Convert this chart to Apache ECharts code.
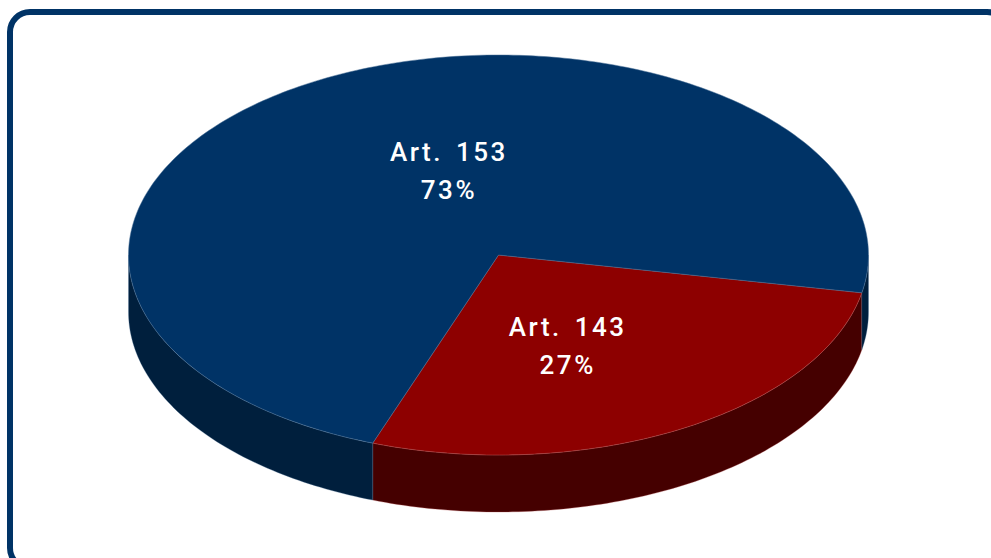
<!DOCTYPE html>
<html><head><meta charset="utf-8">
<style>html,body{margin:0;padding:0;background:#fff}#c{width:991px;height:558px}
svg text{letter-spacing:2.5px;word-spacing:4px}</style>
<script src="https://cdn.jsdelivr.net/npm/echarts@6/dist/echarts.min.js"></script>
</head><body><div id="c"></div>
<script>
const categories = ['Art. 143', 'Art. 153'];
const shares = [27.49, 72.51];
const topColors = ['#8d0000', '#003366'];
const sideColors = ['#450000', '#001f3d'];
const edgeColors = ['#b04a4a', '#4a7096'];
const labelOffsets = [[0.187, 0.455], [-0.134, -0.42]];

const cx = 498.5, cy = 255, rx = 370, ry = 200, depth = 57, startDeg = 10.9;
const total = shares.reduce((a, b) => a + b, 0);
const rad = d => d * Math.PI / 180;
const pt = (deg, dy) => [cx + rx * Math.cos(rad(deg)), cy + dy + ry * Math.sin(rad(deg))];
const arc = (a, b, dy) => {
  const out = [], n = Math.max(2, Math.ceil(Math.abs(b - a) / 1));
  for (let i = 0; i <= n; i++) out.push(pt(a + (b - a) * i / n, dy));
  return out;
};
function visibleRanges(a, b) {
  const res = [];
  for (let k = 0; k <= 1; k++) {
    const lo = Math.max(a, 360 * k), hi = Math.min(b, 180 + 360 * k);
    if (hi > lo) res.push([lo, hi]);
  }
  return res;
}
const chart = echarts.init(document.getElementById('c'), null, {renderer: 'svg'});
chart.setOption({
  animation: false,
  graphic: [{
    type: 'rect', z: 0, silent: true,
    shape: {x: 10, y: 12, width: 997, height: 556, r: 20},
    style: {fill: '#fff', stroke: '#003366', lineWidth: 6}
  }],
  series: [{
    type: 'custom',
    coordinateSystem: 'none',
    z: 2,
    data: shares.map((v, i) => ({name: categories[i], value: [v]})),
    renderItem(params, api) {
      const i = params.dataIndex;
      let a = startDeg;
      for (let k = 0; k < i; k++) a += shares[k] / total * 360;
      const b = a + api.value(0) / total * 360;
      const children = [];
      visibleRanges(a, b).forEach(([lo, hi]) => {
        const pts = arc(lo, hi, 0).concat(arc(hi, lo, depth));
        children.push({type: 'polygon', shape: {points: pts},
          style: {fill: sideColors[i], stroke: edgeColors[i], lineWidth: 0.3}});
      });
      children.push({type: 'polygon', z2: 5,
        shape: {points: [[cx, cy]].concat(arc(a, b, 0))},
        style: {fill: topColors[i], stroke: edgeColors[i], lineWidth: 0.5}});
      const pct = Math.round(api.value(0) / total * 100) + '%';
      children.push({type: 'text', z2: 10,
        x: cx + labelOffsets[i][0] * rx, y: cy + labelOffsets[i][1] * ry,
        style: {text: categories[i] + '\n' + pct, fill: '#fff',
          font: '500 26px Roboto', lineHeight: 38, align: 'center', verticalAlign: 'middle'}});
      return {type: 'group', children};
    }
  }]
});
</script></body></html>
